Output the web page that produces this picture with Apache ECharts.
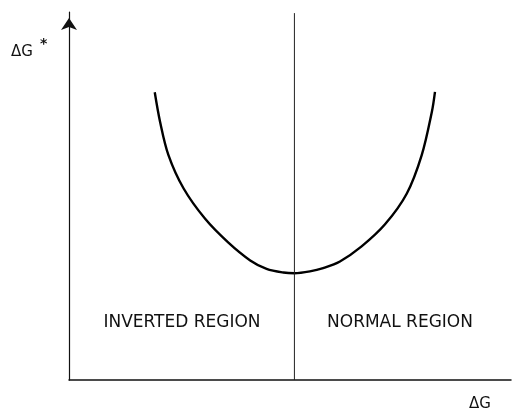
<!DOCTYPE html>
<html>
<head>
<meta charset="utf-8">
<script src="https://cdn.jsdelivr.net/npm/echarts@6/dist/echarts.min.js"></script>
<style>html,body{margin:0;padding:0;background:#fff}#c{width:512px;height:409px}</style>
</head>
<body>
<div id="c"></div>
<script>
// Curve (x: ΔG in arbitrary units, y: ΔG* in arbitrary units)
var curveX = [19.4, 20.6, 22.5, 25.9, 30.8, 36.0, 41.0, 44.7, 48.5, 51.0, 54.5, 57.5, 61.3, 66.2, 71.5, 76.4, 79.8, 82.1, 82.8];
var curveY = [78.2, 70.2, 61.1, 52.1, 43.8, 37.4, 32.5, 30.2, 29.2, 29.0, 29.5, 30.4, 32.2, 36.3, 42.3, 50.6, 61.1, 72.9, 78.3];
// Divider between the two regions
var dividerX = [51.0, 51.0];
var dividerY = [0, 99.7];
var regionLabels = ['INVERTED REGION', 'NORMAL REGION'];
var xAxisName = 'ΔG';
var yAxisName = 'ΔG';

var chart = echarts.init(document.getElementById('c'), null, {renderer: 'canvas'});
var curve = curveX.map(function (x, i) { return [x, curveY[i]]; });
var divider = dividerX.map(function (x, i) { return [x, dividerY[i]]; });
var font = 'DejaVu Sans';

chart.setOption({
  animation: false,
  backgroundColor: '#fff',
  grid: {left: 69, right: 1, top: 12, bottom: 29},
  xAxis: {
    type: 'value', min: 0, max: 100,
    axisLine: {show: true, lineStyle: {color: '#111', width: 1.5}},
    axisTick: {show: false}, axisLabel: {show: false}, splitLine: {show: false}
  },
  yAxis: {
    type: 'value', min: 0, max: 100,
    axisLine: {show: true, symbol: ['none', 'arrow'], symbolSize: [12, 12], symbolOffset: [0, -6],
      lineStyle: {color: '#111', width: 1.2}},
    axisTick: {show: false}, axisLabel: {show: false}, splitLine: {show: false}
  },
  series: [
    {
      type: 'line', data: curve, smooth: 0.33, showSymbol: false, symbol: 'none',
      lineStyle: {color: '#000', width: 2.4}
    },
    {
      type: 'line', data: divider, showSymbol: false, symbol: 'none',
      lineStyle: {color: '#222', width: 1}
    }
  ],
  graphic: [
    {type: 'text', left: 11, top: 45, style: {text: yAxisName, font: '15px "' + font + '"', fill: '#111'}},
    {type: 'text', left: 40, top: 37, style: {text: '*', font: 'bold 14px "' + font + '"', fill: '#111'}},
    {type: 'text', x: 182, y: 323, style: {text: regionLabels[0], font: '17px "' + font + '"', fill: '#111', align: 'center', verticalAlign: 'middle'}},
    {type: 'text', x: 400, y: 323, style: {text: regionLabels[1], font: '17px "' + font + '"', fill: '#111', align: 'center', verticalAlign: 'middle'}},
    {type: 'text', x: 480, y: 404, style: {text: xAxisName, font: '15px "' + font + '"', fill: '#111', align: 'center', verticalAlign: 'middle'}}
  ]
});
</script>
</body>
</html>
